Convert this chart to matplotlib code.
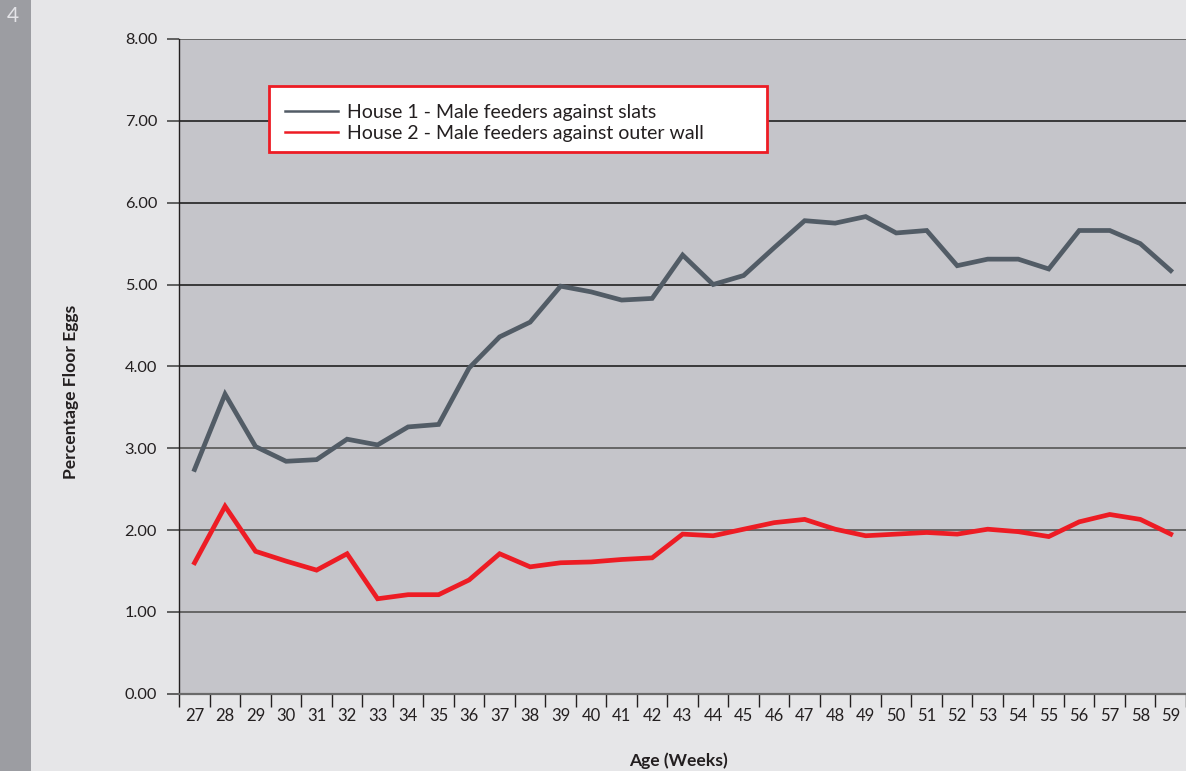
import numpy as np
import matplotlib
matplotlib.use('Agg')
import matplotlib.pyplot as plt
from matplotlib.lines import Line2D
from matplotlib.patches import Rectangle

weeks = [27, 28, 29, 30, 31, 32, 33, 34, 35, 36, 37, 38, 39, 40, 41, 42, 43,
         44, 45, 46, 47, 48, 49, 50, 51, 52, 53, 54, 55, 56, 57, 58, 59]

house_1 = [2.74, 3.66, 3.02, 2.84, 2.86, 3.11, 3.04, 3.26, 3.29, 3.98, 4.36,
           4.54, 4.98, 4.91, 4.81, 4.83, 5.36, 5.00, 5.11, 5.45, 5.78, 5.75,
           5.83, 5.63, 5.66, 5.23, 5.31, 5.31, 5.19, 5.66, 5.66, 5.50, 5.17]

house_2 = [1.60, 2.29, 1.74, 1.62, 1.51, 1.71, 1.16, 1.21, 1.21, 1.39, 1.71,
           1.55, 1.60, 1.61, 1.64, 1.66, 1.95, 1.93, 2.01, 2.09, 2.13, 2.01,
           1.93, 1.95, 1.97, 1.95, 2.01, 1.98, 1.92, 2.10, 2.19, 2.13, 1.95]

y_ticks = [0, 1, 2, 3, 4, 5, 6, 7, 8]

series_labels = ['House 1 - Male feeders against slats',
                 'House 2 - Male feeders against outer wall']
series_colors = ['#525c66', '#ed1c24']

page_number = '4'


class FloorEggsChart():
    """
    Draws the floor eggs line chart
    for both houses and saves it as out.png.
    """

    def __init__(self):
        self.width_px = 1186
        self.height_px = 771
        self.text_color = '#231f20'
        plt.rcParams['font.family'] = ['Lato', 'DejaVu Sans']

    def px_x(self, x):
        return x / self.width_px

    def px_y(self, y):
        return 1 - y / self.height_px

    def run_script(self) -> None:
        fig = plt.figure(figsize=(11.86, 7.71), dpi=100)
        fig.patch.set_facecolor('#e6e6e8')

        # grey page strip on the left
        fig.patches.append(Rectangle((0, 0), self.px_x(31), 1,
                                     transform=fig.transFigure,
                                     facecolor='#9c9da2', edgecolor='none'))
        fig.text(self.px_x(13), self.px_y(16), page_number, color='#e4e4e8',
                 fontsize=15, ha='center', va='center')

        left, bottom = self.px_x(179.3), self.px_y(693.7)
        ax = fig.add_axes([left, bottom, 1 - left, self.px_y(39) - bottom])
        ax.set_facecolor('#c5c5ca')

        x = np.arange(len(weeks))
        for values, color in zip([house_1, house_2], series_colors):
            ax.plot(x, values, color=color, linewidth=3.4,
                    solid_joinstyle='miter', zorder=3)

        ax.set_xlim(-0.5, 32.38)
        ax.set_ylim(0, 8)

        ax.set_xticks(x)
        ax.set_xticklabels([str(w) for w in weeks])
        ax.set_xticks(np.arange(-0.5, len(weeks)), minor=True)
        ax.tick_params(axis='x', which='major', length=0, pad=10,
                       labelsize=12, labelcolor=self.text_color)
        ax.tick_params(axis='x', which='minor', length=9, width=1,
                       color=self.text_color, direction='out')

        ax.set_yticks(y_ticks)
        ax.set_yticklabels([f'{v:.2f}' for v in y_ticks])
        ax.tick_params(axis='y', length=9, width=1.3, color='#555555',
                       pad=7, labelsize=11.8, labelcolor=self.text_color)

        ax.set_axisbelow(True)
        ax.grid(axis='y', linewidth=1.3)
        for value, line in zip(y_ticks, ax.get_ygridlines()):
            if value in (4, 5, 6, 7):
                line.set_color('#2e2e2e')
            else:
                line.set_color('#5e5e5e')

        for side in ['right', 'top']:
            ax.spines[side].set_visible(False)
        ax.spines['left'].set_color(self.text_color)
        ax.spines['left'].set_linewidth(1)
        ax.spines['bottom'].set_color('#6a6a6a')
        ax.spines['bottom'].set_linewidth(1.6)

        # legend box
        fig.patches.append(Rectangle((self.px_x(269.3), self.px_y(152)),
                                     self.px_x(766.7 - 269.3),
                                     (152 - 86.3) / self.height_px,
                                     transform=fig.transFigure,
                                     facecolor='white', edgecolor='#ed1c24',
                                     linewidth=2, zorder=4))
        handles = [Line2D([], [], color=c, linewidth=1.8) for c in series_colors]
        leg = fig.legend(handles, series_labels, loc='center left',
                         bbox_to_anchor=(self.px_x(285), self.px_y(123)),
                         frameon=False, fontsize=14, handlelength=2.73,
                         handletextpad=0.46, borderpad=0, labelspacing=0.22,
                         borderaxespad=0)
        leg.set_zorder(5)
        for text in leg.get_texts():
            text.set_color(self.text_color)

        fig.text(self.px_x(71), self.px_y(392), 'Percentage Floor Eggs',
                 rotation=90, fontsize=12.6, fontweight='bold',
                 color=self.text_color, ha='center', va='center')
        fig.text(self.px_x(678), self.px_y(761), 'Age (Weeks)',
                 fontsize=12.6, fontweight='bold', color=self.text_color,
                 ha='center', va='center')

        fig.savefig('out.png', dpi=100, facecolor=fig.get_facecolor())


if __name__ == '__main__':
    FloorEggsChart().run_script()
